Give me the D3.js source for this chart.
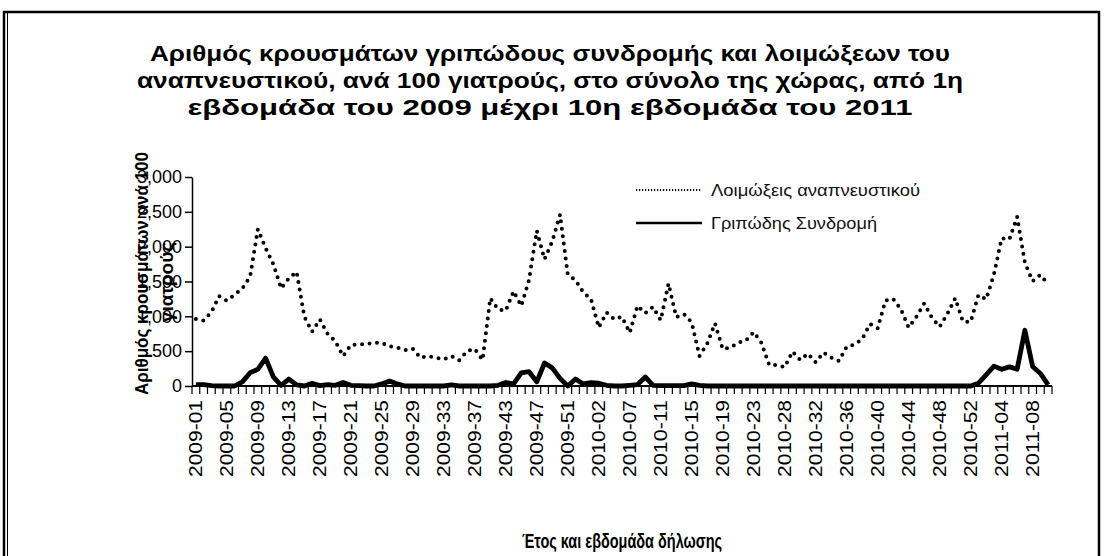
<!DOCTYPE html>
<html>
<head>
<meta charset="utf-8">
<script src="https://cdnjs.cloudflare.com/ajax/libs/d3/7.8.5/d3.min.js"></script>
<style>
  body { margin: 0; background: #fff; }
  svg { display: block; font-family: "Liberation Sans", Arial, sans-serif; }
</style>
</head>
<body>
<script>
// weekly categories (some weeks missing in the source data)
const weeks = [
  "2009-01","2009-02","2009-03","2009-04","2009-05","2009-06","2009-07","2009-08","2009-09","2009-10",
  "2009-11","2009-12","2009-13","2009-14","2009-15","2009-16","2009-17","2009-18","2009-19","2009-20",
  "2009-21","2009-22","2009-23","2009-24","2009-25","2009-26","2009-27","2009-28","2009-29","2009-30",
  "2009-31","2009-32","2009-33","2009-34","2009-35","2009-36","2009-37","2009-38","2009-39","2009-40",
  "2009-43","2009-44","2009-45","2009-46","2009-47","2009-48","2009-49","2009-50","2009-51","2009-52",
  "2009-53","2010-01","2010-02","2010-03","2010-04","2010-05","2010-07","2010-08","2010-09","2010-10",
  "2010-11","2010-12","2010-13","2010-14","2010-15","2010-16","2010-17","2010-18","2010-19","2010-20",
  "2010-21","2010-22","2010-23","2010-24","2010-25","2010-26","2010-28","2010-29","2010-30","2010-31",
  "2010-32","2010-33","2010-34","2010-35","2010-36","2010-37","2010-38","2010-39","2010-40","2010-41",
  "2010-42","2010-43","2010-44","2010-45","2010-46","2010-47","2010-48","2010-49","2010-50","2010-51",
  "2010-52","2011-01","2011-02","2011-03","2011-04","2011-05","2011-06","2011-07","2011-08","2011-09",
  "2011-10"
];

const tickLabels = [
  "2009-01","2009-05","2009-09","2009-13","2009-17","2009-21","2009-25","2009-29","2009-33","2009-37",
  "2009-43","2009-47","2009-51","2010-02","2010-07","2010-11","2010-15","2010-19","2010-23","2010-28",
  "2010-32","2010-36","2010-40","2010-44","2010-48","2010-52","2011-04","2011-08"
];

// Λοιμώξεις αναπνευστικού
const respiratory = [
  960, 940, 1060, 1290, 1225, 1310, 1400, 1570, 2250, 1980,
  1750, 1400, 1545, 1640, 995, 780, 955, 750, 640, 430,
  590, 595, 605, 620, 620, 570, 550, 515, 535, 405,
  430, 405, 385, 430, 370, 500, 530, 375, 1260, 1100,
  1080, 1360, 1150, 1520, 2230, 1820, 2075, 2460, 1600, 1520,
  1345, 1245, 840, 1055, 960, 995, 765, 1150, 1045, 1135,
  945, 1470, 990, 1030, 910, 430, 610, 900, 530, 550,
  620, 655, 775, 620, 300, 300, 270, 495, 375, 465,
  340, 480, 410, 360, 565, 595, 675, 890, 830, 1225,
  1250, 1100, 840, 995, 1185, 980, 850, 1035, 1260, 925,
  920, 1305, 1245, 1600, 2120, 2105, 2430, 1770, 1505, 1595,
  1460
];

// Γριπώδης Συνδρομή
const influenza = [
  20, 20, 5, 0, 0, 0, 60, 190, 240, 400,
  130, 10, 100, 15, 0, 40, 5, 20, 10, 50,
  10, 5, 0, 0, 30, 70, 30, 0, 0, 0,
  0, 0, 0, 15, 0, 0, 0, 0, 0, 10,
  50, 30, 190, 205, 60, 330, 260, 110, 0, 100,
  30, 50, 40, 10, 0, 0, 10, 20, 130, 10,
  5, 5, 5, 5, 30, 10, 0, 0, 0, 0,
  0, 0, 0, 0, 0, 0, 0, 0, 0, 0,
  0, 0, 0, 0, 0, 0, 0, 0, 0, 0,
  0, 0, 0, 0, 0, 0, 0, 0, 0, 0,
  0, 40, 160, 285, 240, 275, 240, 800, 280, 180,
  15
];

const yTicks = [0, 500, 1000, 1500, 2000, 2500, 3000];

const width = 1105, height = 556;
const plotLeft = 192, plotRight = 1052, plotTop = 177, plotBottom = 386;

const svg = d3.select("body").append("svg")
    .attr("width", width)
    .attr("height", height);

svg.append("rect").attr("width", width).attr("height", height).attr("fill", "#fff");

// frame
svg.append("rect")
    .attr("x", 4).attr("y", 12)
    .attr("width", 1095).attr("height", 570)
    .attr("fill", "none").attr("stroke", "#000").attr("stroke-width", 2.5);
svg.append("line")
    .attr("x1", 7.5).attr("x2", 7.5).attr("y1", 13).attr("y2", height)
    .attr("stroke", "#000").attr("stroke-width", 1);

// title (the original font is wider than Liberation, so fit each line)
const titleLines = [
  { text: "Αριθμός κρουσμάτων γριπώδους συνδρομής και λοιμώξεων του", len: 800 },
  { text: "αναπνευστικού, ανά 100 γιατρούς, στο σύνολο της χώρας, από 1η", len: 826 },
  { text: "εβδομάδα του 2009 μέχρι 10η εβδομάδα του 2011", len: 725 }
];
svg.selectAll("text.title")
    .data(titleLines).enter().append("text")
    .attr("class", "title")
    .attr("x", d => 550 - d.len / 2)
    .attr("y", (d, i) => 61 + i * 27)
    .attr("textLength", d => d.len)
    .attr("lengthAdjust", "spacingAndGlyphs")
    .style("font-size", "22px").style("font-weight", "bold")
    .text(d => d.text);

const x = d3.scaleBand().domain(weeks).range([plotLeft, plotRight]).padding(0);
const y = d3.scaleLinear().domain([0, 3000]).range([plotBottom, plotTop]);

// y axis
const yAxis = svg.append("g")
    .attr("transform", `translate(${plotLeft},0)`)
    .call(d3.axisLeft(y).tickValues(yTicks).tickSize(7).tickSizeOuter(0).tickPadding(3));
yAxis.select(".domain").attr("stroke-width", 1.5);
yAxis.selectAll(".tick line").attr("stroke-width", 1.5);
yAxis.selectAll("text").style("font-size", "18px").attr("fill", "#000");

// x axis: ticks between categories
const xg = svg.append("g").attr("transform", `translate(0,${plotBottom})`);
xg.append("line")
    .attr("x1", plotLeft).attr("x2", plotRight)
    .attr("stroke", "#000").attr("stroke-width", 2);
xg.selectAll("line.tk")
    .data(weeks.concat(["end"]))
    .enter().append("line")
    .attr("class", "tk")
    .attr("x1", (d, i) => i < weeks.length ? x(d) : plotRight)
    .attr("x2", (d, i) => i < weeks.length ? x(d) : plotRight)
    .attr("y1", 0).attr("y2", 8)
    .attr("stroke", "#000").attr("stroke-width", 1.2);

const xAxis = svg.append("g")
    .attr("transform", `translate(0,${plotBottom})`)
    .call(d3.axisBottom(x).tickValues(tickLabels).tickSize(0));
xAxis.select(".domain").remove();
xAxis.selectAll("text")
    .attr("transform", "rotate(-90)")
    .attr("x", -14).attr("y", 0).attr("dy", "0.36em")
    .style("text-anchor", "end")
    .style("font-size", "18px")
    .attr("textLength", 77)
    .attr("lengthAdjust", "spacingAndGlyphs")
    .attr("fill", "#000");

// lines
const line = d3.line()
    .x((d, i) => x(weeks[i]) + x.bandwidth() / 2)
    .y(d => y(d));

svg.append("path")
    .datum(respiratory)
    .attr("d", line)
    .attr("fill", "none")
    .attr("stroke", "#000")
    .attr("stroke-width", 4)
    .attr("stroke-linecap", "round")
    .attr("stroke-dasharray", "0 7.5");

svg.append("path")
    .datum(influenza)
    .attr("d", line)
    .attr("fill", "none")
    .attr("stroke", "#000")
    .attr("stroke-width", 4.8)
    .attr("stroke-linejoin", "round");

// axis titles
svg.append("text")
    .attr("transform", "translate(148,395) rotate(-90)")
    .attr("textLength", 243)
    .attr("lengthAdjust", "spacingAndGlyphs")
    .style("font-size", "19px").style("font-weight", "bold")
    .text("Αριθμός κρουσμάτων ανά 100");
svg.append("text")
    .attr("transform", "translate(173,282) rotate(-90)")
    .attr("text-anchor", "middle")
    .style("font-size", "19px").style("font-weight", "bold")
    .text("γιατρούς");

const xTitleLen = 200;
svg.append("text")
    .attr("x", (plotLeft + plotRight) / 2 - xTitleLen / 2).attr("y", 548)
    .attr("textLength", xTitleLen)
    .attr("lengthAdjust", "spacingAndGlyphs")
    .style("font-size", "20px").style("font-weight", "bold")
    .text("Έτος και εβδομάδα δήλωσης");

// legend
const legendItems = [
  { name: "Λοιμώξεις αναπνευστικού", dash: "1.2 1.8", w: 2, len: 209 },
  { name: "Γριπώδης Συνδρομή", dash: null, w: 2.5, len: 166 }
];
const lg = svg.append("g").attr("transform", "translate(636,190)");
legendItems.forEach((d, i) => {
  const row = lg.append("g").attr("transform", `translate(0,${i * 33})`);
  row.append("line")
      .attr("x1", 0).attr("x2", 66)
      .attr("stroke", "#000").attr("stroke-width", d.w)
      .attr("stroke-dasharray", d.dash);
  row.append("text")
      .attr("x", 75).attr("dy", "0.36em")
      .attr("textLength", d.len)
      .attr("lengthAdjust", "spacingAndGlyphs")
      .style("font-size", "17px").attr("fill", "#111")
      .text(d.name);
});
</script>
</body>
</html>
